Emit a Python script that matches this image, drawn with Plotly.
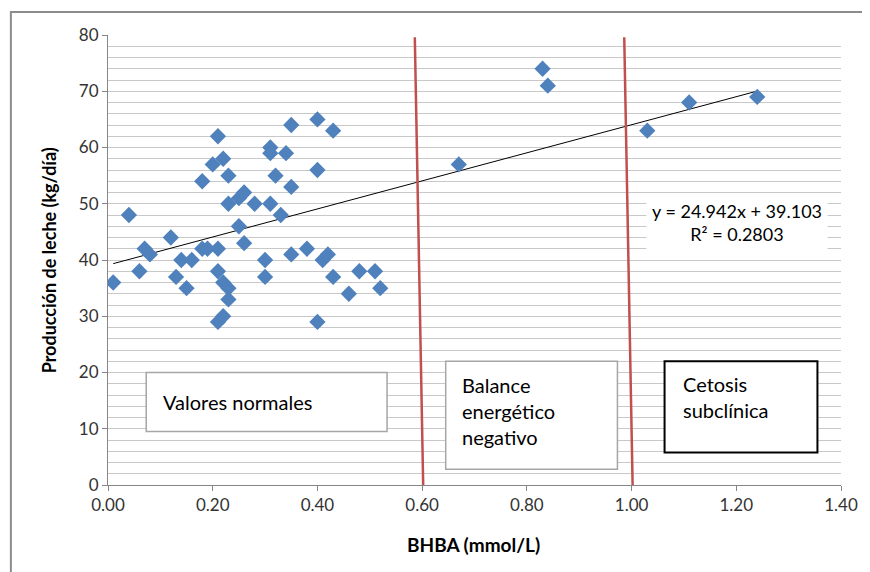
import plotly.graph_objects as go

# ---- data ----
bhba = [0.01, 0.04, 0.06, 0.07, 0.08, 0.12, 0.13, 0.14, 0.15, 0.16,
        0.18, 0.18, 0.19, 0.20, 0.21, 0.21, 0.21, 0.21, 0.22, 0.22,
        0.22, 0.23, 0.23, 0.23, 0.23, 0.25, 0.25, 0.26, 0.26, 0.28,
        0.30, 0.30, 0.31, 0.31, 0.31, 0.32, 0.33, 0.34, 0.35, 0.35,
        0.35, 0.38, 0.40, 0.40, 0.40, 0.41, 0.42, 0.43, 0.43, 0.46,
        0.48, 0.51, 0.52, 0.67, 0.83, 0.84, 1.03, 1.11, 1.24]
leche = [36, 48, 38, 42, 41, 44, 37, 40, 35, 40,
         54, 42, 42, 57, 62, 42, 38, 29, 58, 36,
         30, 55, 50, 35, 33, 46, 51, 52, 43, 50,
         40, 37, 60, 59, 50, 55, 48, 59, 64, 53,
         41, 42, 65, 56, 29, 40, 41, 63, 37, 34,
         38, 38, 35, 57, 74, 71, 63, 68, 69]

slope = 24.942
intercept = 39.103
r2 = 0.2803
thresholds = [0.60, 1.00]

x_ticks = [0.0, 0.2, 0.4, 0.6, 0.8, 1.0, 1.2, 1.4]
x_ticklabels = ["0.00", "0.20", "0.40", "0.60", "0.80", "1.00", "1.20", "1.40"]
y_ticks = [0, 10, 20, 30, 40, 50, 60, 70, 80]

FONT = "Lato, Carlito, 'Liberation Sans', sans-serif"

fig = go.Figure()

# trend line
tx = [min(bhba), max(bhba)]
ty = [slope * v + intercept for v in tx]
fig.add_trace(go.Scatter(x=tx, y=ty, mode="lines",
                         line=dict(color="#000000", width=1),
                         hoverinfo="skip", showlegend=False))

# data points
fig.add_trace(go.Scatter(x=bhba, y=leche, mode="markers",
                         marker=dict(symbol="diamond", size=12.5, color="#4F81BD",
                                     line=dict(width=0)),
                         showlegend=False))

shapes = []
# red threshold lines (slightly slanted as in the reference)
for t in thresholds:
    shapes.append(dict(type="line", xref="x", yref="y",
                       x0=t - 0.014, y0=79.6, x1=t + 0.002, y1=0,
                       line=dict(color="#C0504D", width=2.5), layer="above"))

# text boxes
shapes.append(dict(type="rect", xref="x", yref="y", x0=0.073, x1=0.533, y0=9.5, y1=20.0,
                   line=dict(color="#A6A6A6", width=1.5), fillcolor="white", layer="above"))
shapes.append(dict(type="rect", xref="x", yref="y", x0=0.645, x1=0.973, y0=2.8, y1=22.0,
                   line=dict(color="#A6A6A6", width=1.5), fillcolor="white", layer="above"))
shapes.append(dict(type="rect", xref="x", yref="y", x0=1.063, x1=1.355, y0=5.8, y1=22.0,
                   line=dict(color="#000000", width=2), fillcolor="white", layer="above"))

# outer chart frame
shapes.append(dict(type="rect", xref="paper", yref="paper", x0=-0.1325, x1=1.2, y0=-0.3, y1=1.051,
                   line=dict(color="#8C8C8C", width=2), fillcolor="rgba(0,0,0,0)", layer="below"))

annotations = [
    dict(x=0.101, y=14.7, xref="x", yref="y", text="Valores normales", showarrow=False,
         xanchor="left", yanchor="middle", font=dict(family=FONT, size=20, color="#000")),
    dict(x=0.673, y=13.2, xref="x", yref="y", text="Balance<br>energético<br>negativo",
         showarrow=False, xanchor="left", yanchor="middle", align="left",
         font=dict(family=FONT, size=20, color="#000")),
    dict(x=1.094, y=15.6, xref="x", yref="y", text="Cetosis<br>subclínica",
         showarrow=False, xanchor="left", yanchor="middle", align="left",
         font=dict(family=FONT, size=20, color="#000")),
    dict(x=1.202, y=46.7, xref="x", yref="y",
         text=f"y = {slope}x + {intercept}<br>R² = {r2}",
         showarrow=False, xanchor="center", yanchor="middle", align="center",
         bgcolor="white", borderpad=5,
         font=dict(family=FONT, size=18, color="#000")),
    dict(x=-0.080, y=0.5, xref="paper", yref="paper", text="<b>Producción de leche (kg/día)</b>",
         textangle=-90, showarrow=False, xanchor="center", yanchor="middle",
         font=dict(family=FONT, size=18, color="#000")),
    dict(x=0.499, y=-0.133, xref="paper", yref="paper", text="<b>BHBA (mmol/L)</b>",
         showarrow=False, xanchor="center", yanchor="middle",
         font=dict(family=FONT, size=19, color="#000")),
]

fig.update_layout(
    width=862, height=564,
    margin=dict(l=100, r=23, t=27, b=87),
    paper_bgcolor="white", plot_bgcolor="white",
    shapes=shapes, annotations=annotations,
    font=dict(family=FONT, size=17, color="#333333"),
    xaxis=dict(range=[0, 1.4], tickvals=x_ticks, ticktext=x_ticklabels,
               showgrid=False, zeroline=False,
               showline=True, linecolor="#868686", linewidth=1,
               ticks="outside", ticklen=5, tickcolor="#868686",
               tickfont=dict(family=FONT, size=17, color="#333333")),
    yaxis=dict(range=[0, 80], tickvals=y_ticks,
               showgrid=True, gridcolor="#C8C8C8", gridwidth=1,
               zeroline=False,
               showline=True, linecolor="#868686", linewidth=1,
               ticks="outside", ticklen=5, tickcolor="#868686",
               tickfont=dict(family=FONT, size=17, color="#333333"),
               minor=dict(dtick=2, showgrid=True, gridcolor="#C8C8C8", gridwidth=1)),
)

fig.write_html("out.html")
